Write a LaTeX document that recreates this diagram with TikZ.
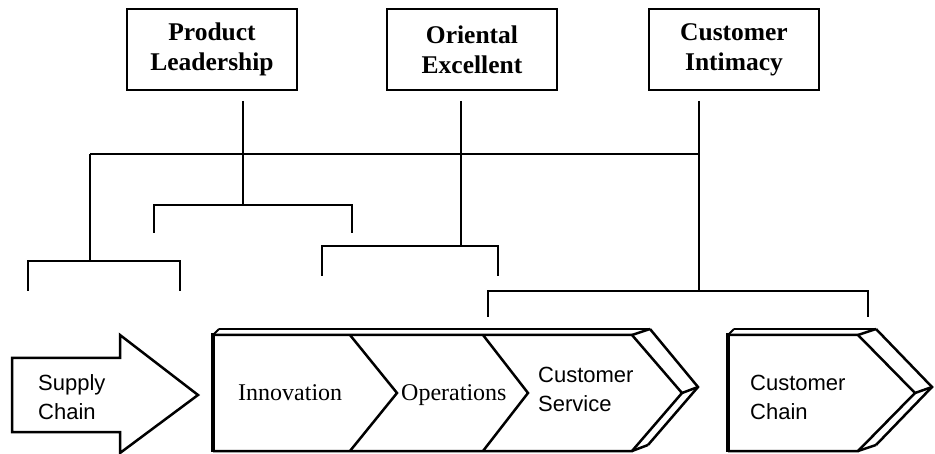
\documentclass[tikz,border=0pt]{standalone}
\usepackage{fontspec}
\setmainfont{Liberation Serif}
\setsansfont{Liberation Sans}
\begin{document}
\begin{tikzpicture}[x=1pt,y=-1pt,
  topbox/.style={draw,line width=2pt,minimum width=170pt,minimum height=81pt,
    align=center,inner sep=0pt,font=\fontsize{25.5}{30}\selectfont\bfseries},
  conn/.style={line width=1.6pt},
  band/.style={line width=2.5pt,line join=miter},
  rim/.style={line width=1.8pt},
  leftedge/.style={line width=4pt},
  serlabel/.style={anchor=base west,inner sep=0pt,font=\fontsize{24}{29}\selectfont},
  sanslabel/.style={anchor=base west,inner sep=0pt,align=left,
    font=\sffamily\fontsize{22}{29.5}\selectfont}]
\useasboundingbox (0,0) rectangle (935,454);

% strategy boxes
\node[topbox] (pl) at (212,49.5) {Product\\Leadership};
\node[topbox] (oe) at (472,49.5) {Oriental\\Excellent};
\node[topbox] (ci) at (734,49.5) {Customer\\Intimacy};

% junction points of the tree
\coordinate (hl) at (90,154);
\coordinate (hr) at (699,154);
\coordinate (b0m) at (90,261);  \coordinate (b0l) at (28,291);  \coordinate (b0r) at (180,291);
\coordinate (b1m) at (243,205); \coordinate (b1l) at (154,233); \coordinate (b1r) at (352,233);
\coordinate (b2m) at (461,246); \coordinate (b2l) at (322,276); \coordinate (b2r) at (498,276);
\coordinate (b3m) at (699,291); \coordinate (b3l) at (488,317); \coordinate (b3r) at (868,317);

% connectors
\draw[conn] (hl) -- (hr);
\draw[conn,shorten <=10pt] (pl.south -| b1m) -- (b1m);
\draw[conn,shorten <=10pt] (oe.south -| b2m) -- (b2m);
\draw[conn,shorten <=10pt] (ci.south -| b3m) -- (b3m);
\draw[conn] (hl) -- (b0m);
\draw[conn] (b0l) |- (b0m) -| (b0r);
\draw[conn] (b1l) |- (b1m) -| (b1r);
\draw[conn] (b2l) |- (b2m) -| (b2r);
\draw[conn] (b3l) |- (b3m) -| (b3r);

% supply chain arrow
\draw[band] (12,358) -- (120,358) -- (120,335) -- (198,395) -- (120,453)
  -- (120,432) -- (12,432) -- cycle;

% value chain band: front face, raised rim and stage dividers
\draw[band] (213,335) -- (632,335) -- (682,393) -- (632,451) -- (213,451);
\draw[rim] (219,329) -- (650,329);
\draw[band] (650,329) -- (698,387) -- (648,445);
\draw[rim] (213,335) -- (219,329);
\draw[band] (632,335) -- (650,329);
\draw[band] (682,393) -- (698,387);
\draw[band] (632,451) -- (648,445);
\draw[leftedge] (213,333) -- (213,452);
\draw[band] (350,335) -- (397,393) -- (350,451);
\draw[band] (483,335) -- (528,393) -- (483,451);

% customer chain
\draw[band] (728,335) -- (858,335) -- (915,393) -- (858,451) -- (728,451);
\draw[rim] (734,329) -- (876,329);
\draw[band] (876,329) -- (932,387) -- (876,445);
\draw[rim] (728,335) -- (734,329);
\draw[band] (858,335) -- (876,329);
\draw[band] (915,393) -- (932,387);
\draw[band] (858,451) -- (876,445);
\draw[leftedge] (728,333) -- (728,452);

% labels (base anchor sits on the last line)
\node[sanslabel] (sc) at (38,420) {Supply\\Chain};
\node[serlabel] (inn) at (238,401) {Innovation};
\node[serlabel] (ops) at (401,401) {Operations};
\node[sanslabel] (cs) at (538,412) {Customer\\Service};
\node[sanslabel] (cc) at (750,420) {Customer\\Chain};
\end{tikzpicture}
\end{document}
